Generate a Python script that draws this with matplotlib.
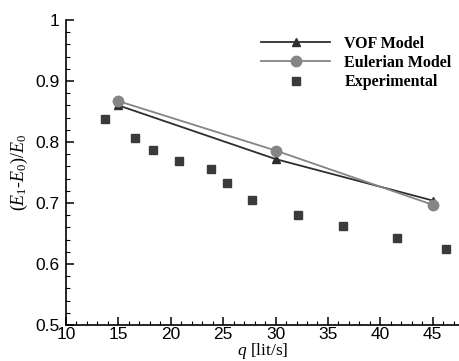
import matplotlib.pyplot as plt
from matplotlib.ticker import MultipleLocator

plt.rcParams['mathtext.fontset'] = 'custom'
plt.rcParams['mathtext.it'] = 'Liberation Serif:italic'
plt.rcParams['mathtext.rm'] = 'Liberation Serif'

# Flow rate q [lit/s] and relative energy loss
q_model = [15, 30, 45]
vof = [0.860, 0.772, 0.704]
eulerian = [0.867, 0.786, 0.697]

q_exp = [13.75, 16.55, 18.27, 20.8, 23.87, 25.33, 27.75, 32.17, 36.46, 41.6, 46.26]
exp_vals = [0.837, 0.806, 0.787, 0.769, 0.755, 0.732, 0.705, 0.680, 0.662, 0.642, 0.624]

fig = plt.figure(figsize=(4.6, 3.61), dpi=100)
ax = fig.add_axes([0.1435, 0.0997, 0.8565, 0.845])

ax.plot(q_model, vof, color='#2e2e2e', lw=1.3, marker='^', ms=5.5, label='VOF Model')
ax.plot(q_model, eulerian, color='#858585', lw=1.3, marker='o', ms=7.5, label='Eulerian Model')
ax.plot(q_exp, exp_vals, ls='none', color='#3a3a3a', marker='s', ms=5.2, label='Experimental')

ax.set_xlim(10, 47.6)
ax.set_ylim(0.5, 1.0)
ax.xaxis.set_major_locator(MultipleLocator(5))
ax.xaxis.set_minor_locator(MultipleLocator(1))
ax.yaxis.set_major_locator(MultipleLocator(0.1))
ax.yaxis.set_minor_locator(MultipleLocator(0.02))
ax.set_yticks([0.5, 0.6, 0.7, 0.8, 0.9, 1.0], ['0.5', '0.6', '0.7', '0.8', '0.9', '1'])

for side in ['top', 'right']:
    ax.spines[side].set_visible(False)
for side in ['left', 'bottom']:
    ax.spines[side].set_linewidth(1.2)

ax.tick_params(which='major', direction='in', length=6, width=1.1, labelsize=12.5)
ax.tick_params(axis='y', which='major', pad=4.5)
ax.tick_params(axis='x', which='major', pad=1.5)
ax.tick_params(which='minor', direction='in', length=3, width=0.8)
for lbl in ax.get_xticklabels() + ax.get_yticklabels():
    lbl.set_family('Liberation Sans')

ax.set_xlabel(r'$q$ [lit/s]', family='Liberation Serif', fontsize=12.5, labelpad=-1)
ax.set_ylabel(r'$(E_1$-$E_0)/E_0$', family='Liberation Serif', fontsize=13, labelpad=4)

ax.legend(loc='upper right', bbox_to_anchor=(1.015, 0.995), frameon=False,
          prop={'family': 'Liberation Serif', 'weight': 'bold', 'size': 11.5},
          handlelength=4.3, handletextpad=0.9, labelspacing=0.2)

fig.savefig('out.png', dpi=100)
